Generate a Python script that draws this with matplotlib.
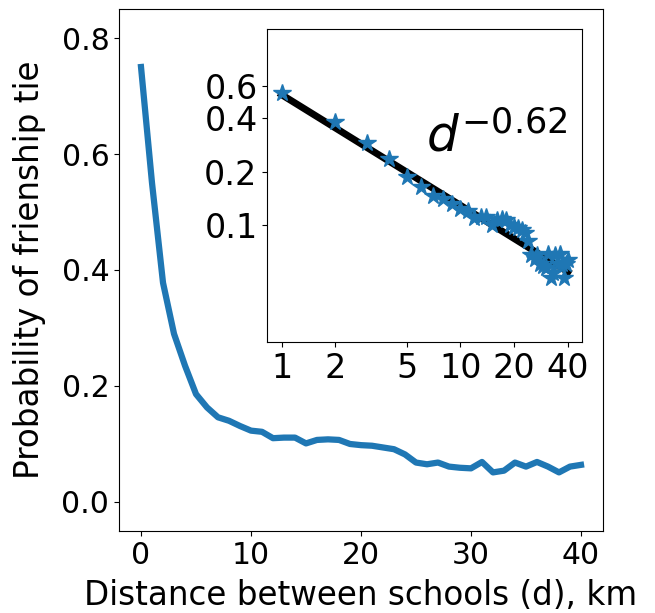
import matplotlib
matplotlib.use('Agg')
import matplotlib.pyplot as plt
import numpy as np

# distance between schools (km) and probability of a friendship tie
dist = list(range(0, 41))
prob = [0.75, 0.55, 0.378, 0.29, 0.235, 0.186, 0.163, 0.146, 0.140, 0.131,
        0.123, 0.121, 0.110, 0.111, 0.111, 0.101, 0.107, 0.108, 0.107, 0.100,
        0.098, 0.097, 0.094, 0.091, 0.082, 0.068, 0.065, 0.068, 0.061, 0.059,
        0.058, 0.069, 0.051, 0.054, 0.068, 0.061, 0.069, 0.061, 0.051, 0.061,
        0.064]

# power law fit shown in the inset
fit_coef = 0.54
fit_exp = -0.62

inset_yticks = [0.1, 0.2, 0.4, 0.6]
inset_xticks = [1, 2, 5, 10, 20, 40]

blue = '#1f77b4'

fig = plt.figure(figsize=(6.55, 6.13), dpi=100)
ax = fig.add_axes([0.1817, 0.1338, 0.7389, 0.8515])
ax.plot(dist, prob, color=blue, lw=4.5)
ax.set_ylim(-0.05, 0.85)
ax.set_xticks([0, 10, 20, 30, 40])
ax.set_yticks([0.0, 0.2, 0.4, 0.6, 0.8])
ax.tick_params(labelsize=21.5)
ax.set_xlabel('Distance between schools (d), km', fontsize=23.5, labelpad=7)
ax.set_ylabel('Probability of frienship tie', fontsize=23.5, labelpad=11)

# inset: log-log view without d=0
d = np.array(dist[1:], dtype=float)
p = np.array(prob[1:])
ins = fig.add_axes([0.408, 0.4416, 0.481, 0.5111])
ins.plot(d, fit_coef * d ** fit_exp, color='k', lw=5)
ins.plot(d, p, '*', color=blue, ms=13)
ins.set_xscale('log')
ins.set_yscale('log')
ins.set_ylim(0.0221, 1.26)
ins.set_yticks(inset_yticks)
ins.set_yticklabels([str(v) for v in inset_yticks])
ins.set_xticks(inset_xticks)
ins.set_xticklabels([str(v) for v in inset_xticks])
ins.minorticks_off()
ins.tick_params(labelsize=24)
ins.text(0.504, 0.608, r'$d^{-0.62}$', transform=ins.transAxes, fontsize=36)

fig.savefig('out.png', dpi=100)
